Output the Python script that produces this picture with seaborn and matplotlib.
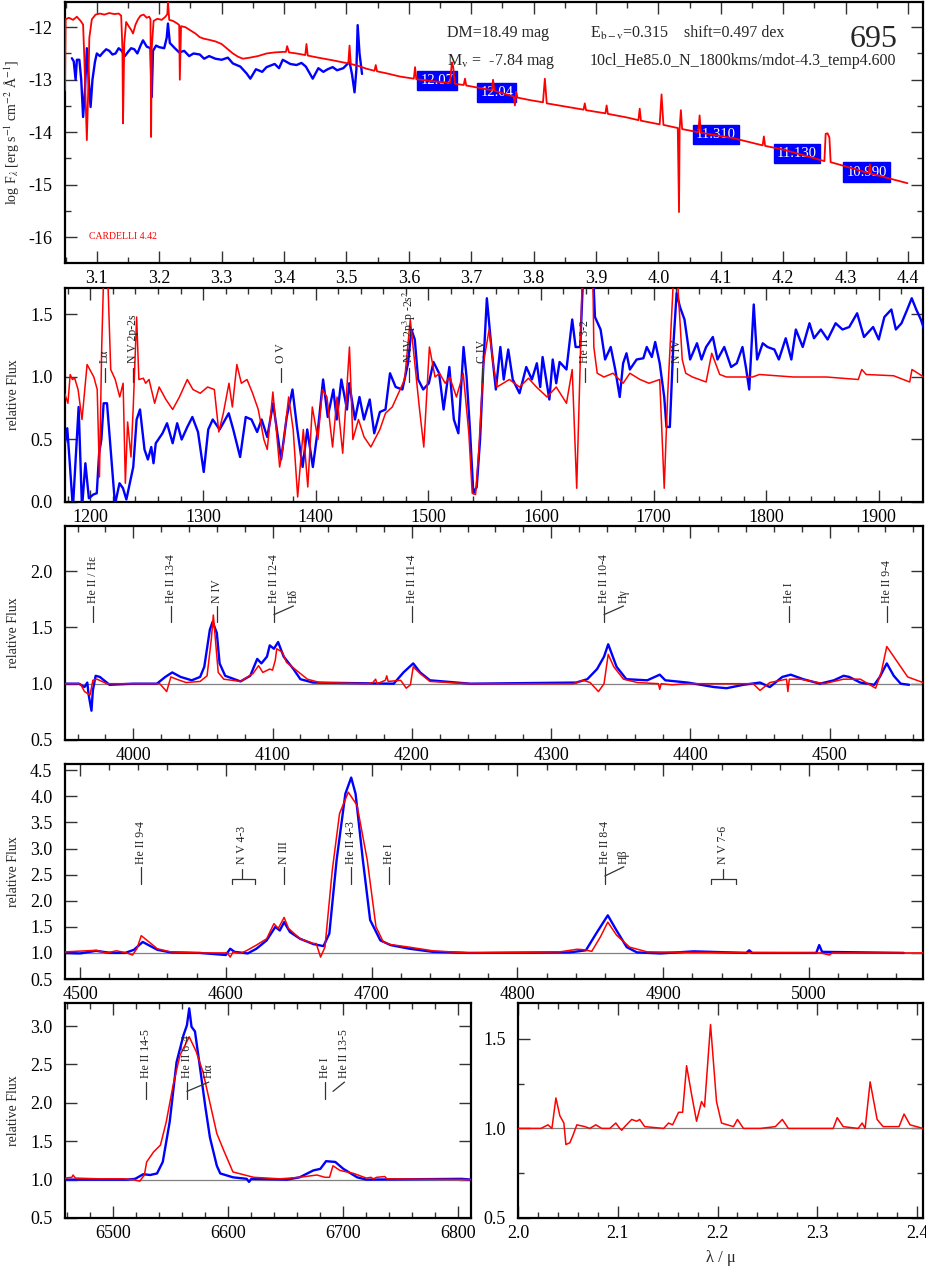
import matplotlib
matplotlib.use("Agg")
import matplotlib.pyplot as plt
import seaborn as sns
from matplotlib.ticker import MultipleLocator

# ---------------- Panel 1: SED (log lambda / log F) ----------------
sed_logw = [3.049, 3.050, 3.055, 3.062, 3.068, 3.074, 3.078, 3.080, 3.082, 3.084, 3.086, 3.088, 3.092, 3.098,
            3.105, 3.112, 3.120, 3.128, 3.135, 3.139, 3.141, 3.142, 3.144, 3.147, 3.151, 3.155, 3.158, 3.162,
            3.166, 3.170, 3.175, 3.180, 3.184, 3.186, 3.187, 3.188, 3.191, 3.197, 3.204, 3.210, 3.213, 3.214,
            3.216, 3.222, 3.229, 3.232, 3.233, 3.235, 3.242, 3.250, 3.258, 3.265, 3.272, 3.280, 3.290, 3.300,
            3.310, 3.318, 3.326, 3.334, 3.345, 3.358, 3.372, 3.385, 3.398, 3.403, 3.405, 3.408, 3.420, 3.434,
            3.436, 3.438, 3.455, 3.478, 3.495, 3.503, 3.505, 3.507, 3.520, 3.532, 3.545, 3.547, 3.549, 3.565,
            3.586, 3.608, 3.610, 3.612, 3.640, 3.666, 3.669, 3.671, 3.674, 3.688, 3.690, 3.692, 3.720, 3.733,
            3.735, 3.737, 3.768, 3.770, 3.772, 3.774, 3.795, 3.815, 3.818, 3.821, 3.850, 3.880, 3.882, 3.884,
            3.915, 3.917, 3.919, 3.950, 3.968, 3.970, 3.972, 4.002, 4.005, 4.008, 4.031, 4.033, 4.034, 4.036,
            4.038, 4.064, 4.066, 4.068, 4.119, 4.167, 4.169, 4.171, 4.200, 4.266, 4.268, 4.271, 4.274, 4.276,
            4.300, 4.337, 4.339, 4.341, 4.399]
sed_logf = [-13.20, -11.85, -11.82, -11.86, -11.80, -11.88, -11.95, -12.60, -13.40, -14.15, -13.30, -12.20, -11.85, -11.76,
            -11.74, -11.76, -11.73, -11.75, -11.74, -11.78, -12.40, -13.83, -12.30, -11.90, -11.98, -12.05, -12.12, -11.95,
            -11.85, -11.78, -11.76, -11.82, -11.80, -11.85, -14.09, -12.40, -11.88, -11.84, -11.86, -11.80, -11.75, -11.50,
            -11.86, -11.88, -11.93, -11.96, -13.00, -11.98, -12.00, -12.06, -12.12, -12.19, -12.22, -12.24, -12.27, -12.32,
            -12.42, -12.50, -12.56, -12.60, -12.58, -12.55, -12.50, -12.48, -12.47, -12.47, -12.36, -12.48, -12.50, -12.53,
            -12.32, -12.54, -12.58, -12.63, -12.67, -12.69, -12.35, -12.70, -12.74, -12.79, -12.83, -12.72, -12.84, -12.88,
            -12.94, -12.98, -12.76, -12.99, -13.03, -13.06, -12.67, -12.75, -13.08, -13.10, -12.98, -13.11, -13.17, -13.20,
            -13.00, -13.21, -13.32, -13.49, -13.23, -13.34, -13.39, -13.43, -12.98, -13.45, -13.51, -13.57, -13.45, -13.58,
            -13.64, -13.49, -13.65, -13.72, -13.77, -13.55, -13.78, -13.85, -13.28, -13.86, -13.92, -15.52, -13.93, -13.58,
            -13.94, -14.00, -13.68, -14.01, -14.11, -14.25, -14.08, -14.26, -14.33, -14.55, -14.03, -14.02, -14.10, -14.57,
            -14.65, -14.78, -14.61, -14.79, -14.97]

obs_logw = [3.060, 3.063, 3.066, 3.068, 3.072, 3.075, 3.078, 3.081, 3.084, 3.087, 3.090, 3.093, 3.097, 3.100,
            3.105, 3.110, 3.115, 3.120, 3.125, 3.130, 3.135, 3.140, 3.145, 3.150, 3.155, 3.160, 3.165, 3.170,
            3.174, 3.180, 3.186, 3.188, 3.190, 3.195, 3.200, 3.208, 3.212, 3.214, 3.217, 3.225, 3.232, 3.240,
            3.248, 3.255, 3.265, 3.272, 3.280, 3.290, 3.300, 3.310, 3.318, 3.330, 3.340, 3.346, 3.355, 3.365,
            3.372, 3.385, 3.392, 3.398, 3.410, 3.420, 3.428, 3.435, 3.446, 3.455, 3.463, 3.470, 3.478, 3.485,
            3.495, 3.505, 3.509, 3.513, 3.516, 3.518, 3.521, 3.525]
obs_logf = [-12.59, -12.65, -13.00, -12.62, -12.62, -13.00, -13.71, -13.20, -12.40, -13.00, -13.52, -13.00, -12.66, -12.50,
            -12.55, -12.48, -12.42, -12.45, -12.52, -12.50, -12.40, -12.45, -12.55, -12.47, -12.40, -12.42, -12.50, -12.35,
            -12.25, -12.37, -12.40, -13.33, -12.45, -12.35, -12.38, -12.40, -12.20, -11.93, -12.30, -12.40, -12.48, -12.45,
            -12.55, -12.50, -12.52, -12.60, -12.55, -12.60, -12.62, -12.58, -12.69, -12.75, -12.88, -12.98, -12.80, -12.85,
            -12.76, -12.70, -12.78, -12.62, -12.70, -12.72, -12.68, -12.75, -12.98, -12.78, -12.85, -12.80, -12.76, -12.82,
            -12.78, -12.66, -12.90, -13.24, -12.80, -11.96, -12.50, -12.89]

phot_logw = [3.645, 3.741, 4.092, 4.222, 4.334]
phot_logf = [-13.01, -13.24, -14.04, -14.40, -14.76]
phot_mag = ["12.07", "12.04", "11.310", "11.130", "10.990"]

# ---------------- Panel 2: UV ----------------
uv_mod_w = [1177, 1180, 1182, 1184, 1186, 1189, 1192.5, 1197, 1203, 1206, 1208, 1210, 1212, 1215, 1218, 1222, 1226,
            1229, 1231, 1233, 1236, 1238, 1241, 1243, 1247, 1249, 1252, 1257, 1261, 1267, 1273, 1279, 1286, 1291,
            1297.5, 1304, 1310, 1314, 1318, 1323, 1326, 1330, 1334, 1339, 1344, 1349, 1354, 1357, 1362, 1368, 1371,
            1376, 1380, 1384, 1389, 1393, 1397, 1402, 1406, 1410, 1415, 1419, 1424, 1430, 1433, 1438, 1443, 1449,
            1457, 1462, 1468, 1475, 1479, 1484, 1488, 1492, 1496, 1501, 1506, 1510, 1515, 1519, 1525, 1531, 1536,
            1539, 1542, 1545, 1549, 1554, 1558, 1561, 1572, 1581, 1589, 1596, 1605.5, 1613.6, 1622.7, 1627.8,
            1631.8, 1634.9, 1636.9, 1646, 1647, 1650, 1656, 1664, 1673, 1679, 1688, 1696, 1705.5, 1709.5, 1712.5,
            1717.5, 1720.5, 1725.5, 1728.6, 1734.6, 1746.7, 1751.7, 1758.8, 1764.8, 1788, 1794, 1824.3, 1853.6,
            1881.8, 1884.9, 1888.9, 1913.2, 1927.5, 1929.5, 1940]
uv_mod_f = [0.87, 0.79, 1.02, 0.98, 0.99, 0.90, 0.66, 1.10, 1.00, 0.90, 0.20, 1.24, 1.90, 1.90, 1.06, 0.98, 0.84,
            0.95, 0.15, 0.64, 0.36, 0.76, 1.48, 0.98, 0.99, 0.95, 0.98, 0.79, 0.92, 0.82, 0.74, 0.84, 0.98, 0.90,
            0.87, 0.92, 0.90, 0.56, 0.71, 0.95, 0.76, 1.10, 0.95, 0.98, 0.87, 0.74, 0.50, 0.42, 0.88, 0.28, 0.44,
            0.84, 0.58, 0.04, 0.58, 0.12, 0.76, 0.50, 0.90, 0.84, 0.44, 0.84, 0.39, 1.24, 0.50, 0.66, 0.52, 0.44,
            0.58, 0.71, 0.76, 0.90, 0.98, 1.46, 1.11, 0.76, 0.44, 1.24, 1.00, 1.03, 0.95, 1.00, 0.84, 1.03, 0.55,
            0.07, 0.06, 0.44, 1.11, 1.38, 1.08, 0.92, 0.98, 0.92, 0.99, 0.92, 0.84, 0.92, 0.79, 1.06,
            0.11, 1.11, 1.90, 1.90, 1.24, 1.03, 1.00, 1.03, 0.95, 1.03, 0.98, 0.95, 0.98, 0.11, 0.84,
            1.75, 1.90, 1.14, 1.03, 1.00, 0.96, 1.19, 1.02, 1.00, 1.00, 1.02, 1.00, 1.00,
            0.98, 1.06, 1.02, 1.01, 0.96, 1.06, 1.00]

uv_obs_w = [1177.4, 1179.4, 1181.4, 1184.4, 1189.5, 1192.5, 1195.5, 1198.6, 1202.6, 1205.6, 1207.7, 1209.7, 1211.7,
            1214.7, 1217.8, 1221.8, 1225.8, 1228.9, 1231.9, 1238, 1241, 1244, 1248, 1251, 1254, 1256, 1258, 1264,
            1268, 1273, 1277, 1281, 1286, 1290.5, 1295.5, 1300.6, 1304.6, 1308.6, 1314.7, 1322.8, 1326.8, 1332.9,
            1337.9, 1343, 1348, 1352, 1357, 1362.2, 1369.3, 1374.3, 1379.4, 1383.4, 1388.4, 1392.5, 1397.5, 1402.6,
            1406.6, 1410.7, 1415.7, 1418.7, 1422.8, 1427.8, 1429.8, 1434.9, 1438.9, 1442.9, 1448, 1452, 1457, 1462,
            1466, 1471, 1477, 1482, 1485, 1488, 1491, 1495.5, 1500.5, 1504.6, 1509.6, 1513.6, 1518.7, 1522.7,
            1526.7, 1531.3, 1534, 1537, 1540, 1543, 1546, 1549, 1552, 1556, 1560, 1564, 1567, 1571, 1575, 1581,
            1587, 1592, 1596.4, 1599.4, 1601.5, 1607.5, 1610.5, 1613.6, 1616.6, 1622.7, 1627.8, 1630.8, 1634.9,
            1637.9, 1646, 1648, 1653, 1657, 1662, 1666, 1670, 1673, 1676, 1679, 1685, 1691, 1694, 1698.5, 1701.5,
            1705.5, 1709.5, 1711.5, 1714.5, 1717.5, 1720.5, 1723.5, 1727.5, 1732.5, 1738.6, 1742.6, 1746.7, 1752.7,
            1756.8, 1762.8, 1768.9, 1773.9, 1779, 1782, 1785, 1789, 1792, 1797, 1801.2, 1807.3, 1811.3, 1817.4,
            1822.4, 1826.4, 1832.5, 1838.5, 1842.5, 1848.6, 1854.6, 1861.7, 1867.8, 1873.8, 1880.8, 1886.9, 1895,
            1900, 1905, 1911.2, 1915.2, 1920.2, 1925.3, 1929.3, 1933.3, 1937.4, 1940.4]
uv_obs_f = [0.47, 0.59, 0.34, -0.05, 0.76, -0.05, 0.31, 0.03, 0.06, 0.07, 0.39, 0.50, 0.79,
            0.79, 0.44, -0.02, 0.15, 0.11, 0.02, 0.28, 0.66, 0.74, 0.42, 0.34, 0.44, 0.31, 0.47, 0.55,
            0.63, 0.47, 0.63, 0.50, 0.60, 0.68, 0.56, 0.24, 0.58, 0.66, 0.58, 0.71, 0.58, 0.36,
            0.68, 0.66, 0.56, 0.66, 0.52, 0.79, 0.34, 0.68, 0.90, 0.60, 0.28, 0.58, 0.28, 0.63,
            0.98, 0.68, 0.90, 0.66, 0.98, 0.74, 0.95, 0.66, 0.84, 0.66, 0.82, 0.55, 0.72, 0.74,
            1.03, 0.92, 0.90, 1.11, 1.38, 1.30, 0.98, 0.90, 0.95, 1.12, 1.03, 0.74, 1.08, 0.66,
            0.55, 1.24, 1.00, 0.58, 0.07, 0.12, 0.50, 1.11, 1.63, 1.24, 0.90, 1.24, 0.98, 1.22, 0.98, 0.87,
            1.08, 0.98, 1.11, 0.92, 1.16, 0.82, 1.14, 0.95, 1.12, 1.06, 1.46, 1.24, 1.24,
            1.90, 1.90, 1.48, 1.38, 1.14, 1.24, 1.06, 0.84, 1.11, 1.19, 1.06, 1.14, 1.15, 1.24, 1.16, 1.28,
            1.11, 0.84, 0.60, 0.60, 1.24, 1.67, 1.56, 1.46, 1.14, 1.27, 1.14, 1.24, 1.32,
            1.14, 1.24, 1.08, 1.11, 1.24, 1.08, 0.90, 1.58, 1.14, 1.27, 1.24, 1.22, 1.14, 1.31,
            1.14, 1.38, 1.24, 1.43, 1.31, 1.38, 1.30, 1.43, 1.38, 1.40, 1.51, 1.32, 1.40,
            1.30, 1.48, 1.54, 1.38, 1.43, 1.54, 1.63, 1.54, 1.46, 1.38]

# ---------------- Panel 3: 3950-4570 ----------------
b1_mod_w = [3951, 3962, 3965, 3969, 3971, 3974, 3981, 4019, 4024, 4027, 4031, 4038, 4048, 4053, 4056, 4057.5, 4059,
            4061, 4065, 4077, 4086, 4090, 4093, 4098, 4100, 4102, 4103, 4107, 4110, 4116, 4125, 4134, 4168, 4172,
            4174, 4175, 4181, 4182, 4183, 4192, 4196, 4199, 4201, 4206, 4213, 4227, 4242, 4316, 4323, 4328, 4334,
            4338, 4341, 4345, 4352, 4362, 4377, 4378, 4379, 4387, 4398, 4445, 4450, 4457, 4465, 4469, 4470, 4471,
            4479, 4496, 4510, 4522, 4533, 4537, 4541, 4546, 4556, 4567]
b1_mod_f = [1.00, 1.00, 0.93, 0.90, 1.03, 1.04, 1.00, 1.00, 0.93, 1.06, 1.04, 1.01, 1.02, 1.07, 1.39, 1.61, 1.39,
            1.10, 1.04, 1.02, 1.09, 1.16, 1.10, 1.13, 1.12, 1.21, 1.31, 1.28, 1.19, 1.13, 1.04, 1.01, 1.00, 1.01,
            1.04, 1.00, 1.03, 1.07, 1.02, 1.03, 0.96, 0.99, 1.15, 1.09, 1.02, 1.01, 1.00, 1.00, 1.03, 1.01, 0.93,
            1.00, 1.26, 1.15, 1.04, 1.01, 1.00, 0.95, 1.00, 0.99, 1.00, 1.00, 0.94, 1.01, 1.03, 1.04, 0.93, 1.04,
            1.04, 1.00, 1.04, 1.04, 0.96, 1.10, 1.33, 1.24, 1.06, 1.01]
b1_obs_w = [3951, 3961, 3965, 3967, 3968, 3970, 3971, 3973, 3976, 3983, 4000, 4017, 4023, 4028, 4034, 4042, 4048,
            4051, 4055, 4057, 4060, 4062, 4066, 4077, 4084, 4089, 4092, 4096, 4098, 4101, 4104, 4108, 4115, 4120,
            4129, 4187, 4194, 4201, 4206, 4213, 4242, 4318, 4326, 4333, 4338, 4341, 4347, 4354, 4369, 4378, 4382,
            4398, 4417, 4426, 4438, 4450, 4457, 4466, 4472, 4481, 4493, 4503, 4510, 4514, 4522, 4532, 4536, 4541,
            4546, 4551, 4557]
b1_obs_f = [1.00, 1.00, 0.97, 1.01, 0.90, 0.76, 0.94, 1.07, 1.06, 0.99, 1.00, 1.00, 1.06, 1.10, 1.06, 1.03, 1.06,
            1.15, 1.48, 1.55, 1.45, 1.18, 1.07, 1.02, 1.07, 1.22, 1.18, 1.24, 1.34, 1.31, 1.37, 1.24, 1.13, 1.04,
            1.01, 1.00, 1.10, 1.18, 1.10, 1.03, 1.00, 1.01, 1.04, 1.13, 1.24, 1.35, 1.15, 1.04, 1.03, 1.08, 1.03,
            1.01, 0.97, 0.96, 0.99, 1.01, 0.97, 1.06, 1.08, 1.04, 1.00, 1.03, 1.07, 1.06, 1.01, 0.99, 1.06, 1.18,
            1.07, 1.00, 0.99]

# ---------------- Panel 4: 4490-5078 ----------------
b2_mod_w = [4490, 4511, 4518, 4525, 4532, 4536, 4539, 4542, 4546, 4553, 4562, 4582, 4601, 4603, 4605, 4610, 4614,
            4621, 4628, 4633, 4636, 4640, 4643, 4651, 4660, 4662, 4665, 4668, 4673, 4678, 4684, 4690, 4697, 4703,
            4708, 4713, 4726, 4742, 4767, 4829, 4841, 4846, 4851, 4857, 4862, 4868, 4877, 4889, 4921, 5008, 5014,
            5016, 5078]
b2_mod_f = [1.02, 1.05, 1.00, 1.04, 1.00, 0.96, 1.08, 1.33, 1.24, 1.08, 1.02, 1.00, 1.00, 0.92, 1.02, 0.99, 1.04,
            1.15, 1.27, 1.56, 1.47, 1.68, 1.47, 1.27, 1.18, 1.18, 0.92, 1.11, 2.58, 3.67, 4.08, 3.83, 2.78, 1.50,
            1.21, 1.16, 1.11, 1.04, 1.00, 1.02, 1.07, 1.06, 1.03, 1.31, 1.59, 1.34, 1.11, 1.02, 1.01, 1.00, 0.96,
            1.00, 1.00]
b2_obs_w = [4490, 4500, 4511, 4521, 4531, 4537, 4543, 4553, 4562, 4582, 4600, 4603, 4606, 4615, 4621, 4628, 4634,
            4637, 4640, 4644, 4651, 4660, 4667, 4671, 4676, 4682, 4686, 4689, 4694, 4699, 4706, 4713, 4726, 4742,
            4767, 4836, 4847, 4854, 4862, 4868, 4875, 4882, 4898, 4921, 4957, 4959, 4961, 5005, 5007, 5009, 5065]
b2_obs_f = [1.00, 0.99, 1.04, 1.00, 1.00, 1.06, 1.21, 1.06, 1.01, 1.00, 0.96, 1.08, 1.02, 0.99, 1.08, 1.24, 1.50,
            1.43, 1.59, 1.40, 1.27, 1.17, 1.13, 1.37, 2.78, 4.05, 4.36, 4.05, 2.78, 1.63, 1.24, 1.15, 1.08, 1.02,
            1.00, 1.01, 1.05, 1.37, 1.72, 1.43, 1.11, 1.01, 0.99, 1.03, 1.00, 1.05, 1.00, 1.00, 1.15, 1.02, 1.00]

# ---------------- Panel 5: H alpha ----------------
ha_mod_w = [6458, 6464, 6465, 6467, 6488, 6509, 6517, 6523, 6527, 6529, 6535, 6541, 6546, 6552, 6558, 6566, 6572,
            6578, 6584, 6590, 6596, 6604, 6622, 6645, 6662, 6677, 6684, 6688, 6691, 6697, 6709, 6720, 6724, 6726,
            6729, 6736, 6738, 6811]
ha_mod_f = [1.02, 1.03, 1.06, 1.02, 1.01, 1.01, 1.00, 0.98, 1.06, 1.23, 1.36, 1.45, 1.75, 2.23, 2.62, 2.86, 2.67,
            2.40, 2.00, 1.60, 1.38, 1.10, 1.03, 1.01, 1.03, 1.06, 1.03, 1.03, 1.18, 1.12, 1.08, 1.02, 1.03, 1.01,
            1.03, 1.04, 1.01, 1.00]
ha_obs_w = [6458, 6512, 6519, 6526, 6532, 6538, 6543, 6549, 6555, 6561, 6564, 6566, 6568, 6571, 6575, 6580, 6584,
            6590, 6593, 6604, 6616, 6618, 6620, 6651, 6662, 6674, 6680, 6685, 6693, 6700, 6712, 6720, 6803, 6811]
ha_obs_f = [1.00, 1.00, 1.01, 1.07, 1.06, 1.08, 1.23, 1.75, 2.53, 2.88, 3.01, 3.23, 2.99, 2.93, 2.50, 1.95, 1.55,
            1.18, 1.08, 1.03, 1.01, 0.97, 1.01, 1.00, 1.03, 1.12, 1.14, 1.24, 1.23, 1.14, 1.03, 1.00, 1.01, 1.00]

# ---------------- Panel 6: K band (micron) ----------------
k_mod_w = [2.000, 2.023, 2.030, 2.034, 2.038, 2.042, 2.046, 2.048, 2.052, 2.055, 2.059, 2.067, 2.072, 2.078, 2.084,
           2.092, 2.098, 2.102, 2.104, 2.107, 2.114, 2.119, 2.122, 2.127, 2.146, 2.151, 2.155, 2.161, 2.165, 2.169,
           2.174, 2.179, 2.184, 2.187, 2.193, 2.199, 2.204, 2.216, 2.220, 2.226, 2.243, 2.258, 2.265, 2.271, 2.316,
           2.320, 2.326, 2.341, 2.345, 2.348, 2.353, 2.360, 2.366, 2.382, 2.387, 2.393, 2.406]
k_mod_f = [1.00, 1.00, 1.02, 1.00, 1.17, 1.07, 1.03, 0.91, 0.92, 0.96, 1.02, 1.01, 1.00, 1.02, 1.00,
           1.00, 1.03, 1.00, 0.99, 1.01, 1.05, 1.04, 1.05, 1.01, 1.00, 1.03, 1.02, 1.09, 1.09, 1.35,
           1.19, 1.04, 1.15, 1.12, 1.58, 1.15, 1.03, 1.01, 1.05, 1.00, 1.00, 1.01, 1.05, 1.00, 1.00,
           1.06, 1.01, 1.00, 1.03, 1.00, 1.26, 1.05, 1.01, 1.01, 1.08, 1.02, 1.00]

# ---------------- Line identifications: (tick wavelength, text position, label) ----------------
uv_ids = [(1213, 1213, "Lα"), (1238, 1238, "N V 2p-2s"), (1369, 1369, "O V"),
          (1483, 1483, r"N IV 2p$^3$p -2s$^2$"), (1548, 1548, "C IV"), (1639, 1639, "He II 3-2"),
          (1721, 1721, "N IV")]
b1_ids = [(3971, 3971, "He II / Hε"), (4027, 4027, "He II 13-4"), (4060, 4060, "N IV"),
          (4101, 4101, "He II 12-4"), (4101, 4115, "Hδ"), (4200, 4200, "He II 11-4"),
          (4338, 4338, "He II 10-4"), (4338, 4352, "Hγ"), (4471, 4471, "He I"), (4541, 4541, "He II 9-4")]
b2_ids = [(4542, 4542, "He II 9-4"), (4640, 4640, "N III"), (4686, 4686, "He II 4-3"), (4712, 4712, "He I"),
          (4860, 4860, "He II 8-4"), (4860, 4873, "Hβ")]
b2_brackets = [(4604, 4620, 4611, "N V 4-3"), (4933, 4950, 4941, "N V 7-6")]
ha_ids = [(6528, 6528, "He II 14-5"), (6564, 6564, "He II 6-4"), (6564, 6583, "Hα"),
          (6684, 6684, "He I"), (6691, 6701, "He II 13-5")]

# ---------------- Figure ----------------
sns.set_theme(style="ticks")
SERIF = ["Liberation Serif", "DejaVu Serif"]
plt.rcParams["font.family"] = SERIF
plt.rcParams["font.serif"] = SERIF
plt.rcParams["font.sans-serif"] = SERIF
plt.rcParams["mathtext.fontset"] = "stix"
plt.rcParams["axes.unicode_minus"] = False
plt.rcParams["axes.formatter.use_mathtext"] = False

W, H = 926, 1268
fig = plt.figure(figsize=(W / 100, H / 100), dpi=100)
fig.patch.set_facecolor("white")


def add_ax(l, t, r, b):
    return fig.add_axes([l / W, 1 - b / H, (r - l) / W, (b - t) / H])


def style(ax, xmaj, xmin, ymaj, ymin=None):
    ax.set_facecolor("white")
    ax.xaxis.set_major_locator(MultipleLocator(xmaj))
    ax.xaxis.set_minor_locator(MultipleLocator(xmin))
    ax.yaxis.set_major_locator(MultipleLocator(ymaj))
    if ymin:
        ax.yaxis.set_minor_locator(MultipleLocator(ymin))
    ax.tick_params(which="both", direction="in", top=True, right=True, color="#333333",
                   labelsize=13, labelcolor="black", labelfontfamily="Liberation Serif")
    ax.tick_params(axis="x", which="both", pad=5)
    ax.tick_params(axis="y", which="both", pad=9)
    ax.tick_params(which="major", length=8.5, width=1.0)
    ax.tick_params(which="minor", length=4.5, width=1.0)
    for s in ax.spines.values():
        s.set_linewidth(1.6)
        s.set_color("black")
    ax.grid(False)


def draw(ax, x, y, color, lw):
    sns.lineplot(x=x, y=y, ax=ax, color=color, linewidth=lw, sort=False, estimator=None,
                 legend=False, zorder=3)


def ids(ax, entries, lo, hi, ytext, fs=8.5):
    for tx, lx, lab in entries:
        if lx == tx:
            ax.plot([tx, tx], [lo, hi], color="#333333", lw=0.9, zorder=4)
        else:
            ax.plot([tx, lx], [lo + 0.45 * (hi - lo), hi], color="#333333", lw=0.9, zorder=4)
        ax.text(lx, ytext, lab, rotation=90, ha="center", va="bottom", fontsize=fs, color="#222222", zorder=5)


GRAY = "#808080"
RED = "#ff0000"
BLUE = "#0000ff"

# Panel 1
ax1 = add_ax(65, 2, 923, 263)
draw(ax1, obs_logw, obs_logf, BLUE, 1.7)
draw(ax1, sed_logw, sed_logf, RED, 1.3)
for xw, yf, m in zip(phot_logw, phot_logf, phot_mag):
    ax1.text(xw, yf, m, color="white", ha="center", va="center", fontsize=10.5, zorder=2,
             bbox=dict(boxstyle="square,pad=0.22", fc=BLUE, ec=BLUE))
ax1.set_xlim(3.049, 4.424)
ax1.set_ylim(-16.49, -11.52)
style(ax1, 0.1, 0.05, 1, 0.5)
ax1.set_ylabel(r"log F$_\lambda$ [erg s$^{-1}$ cm$^{-2}$ Å$^{-1}$]", fontsize=10)
ax1.yaxis.set_label_coords(-0.050, 0.5)
ax1.set_xlabel("")
ax1.text(0.445, 0.880, "DM=18.49 mag", transform=ax1.transAxes, fontsize=11.5, va="center")
ax1.text(0.612, 0.880, r"E$_{\rm b-v}$=0.315", transform=ax1.transAxes, fontsize=11.5, va="center")
ax1.text(0.721, 0.880, "shift=0.497 dex", transform=ax1.transAxes, fontsize=11.5, va="center")
ax1.text(0.445, 0.773, r"M$_{\rm v}$ =  -7.84 mag", transform=ax1.transAxes, fontsize=11.5, va="center")
ax1.text(0.612, 0.773, "10cl_He85.0_N_1800kms/mdot-4.3_temp4.600", transform=ax1.transAxes,
         fontsize=11.5, va="center")
ax1.text(0.970, 0.857, "695", transform=ax1.transAxes, fontsize=23, ha="right", va="center")
ax1.text(0.028, 0.103, "CARDELLI 4.42", transform=ax1.transAxes, fontsize=7, color=RED, va="center")

# Panel 2
ax2 = add_ax(65, 288, 923, 502)
draw(ax2, uv_obs_w, uv_obs_f, BLUE, 1.7)
draw(ax2, uv_mod_w, uv_mod_f, RED, 1.1)
ax2.set_xlim(1177.4, 1939.3)
ax2.set_ylim(0, 1.712)
style(ax2, 100, 20, 0.5)
ids(ax2, uv_ids, 0.96, 1.07, 1.11)
ax2.set_ylabel("relative Flux", fontsize=10)
ax2.yaxis.set_label_coords(-0.053, 0.5)
ax2.set_xlabel("")

# Panel 3
ax3 = add_ax(65, 526, 923, 740)
ax3.axhline(1.0, color=GRAY, lw=0.9, zorder=1)
draw(ax3, b1_obs_w, b1_obs_f, BLUE, 1.7)
draw(ax3, b1_mod_w, b1_mod_f, RED, 1.1)
ax3.set_xlim(3951, 4567)
ax3.set_ylim(0.5, 2.4)
style(ax3, 100, 20, 0.5)
ids(ax3, b1_ids, 1.55, 1.69, 1.72)
ax3.set_ylabel("relative Flux", fontsize=10)
ax3.yaxis.set_label_coords(-0.053, 0.5)
ax3.set_xlabel("")

# Panel 4
ax4 = add_ax(65, 764, 923, 979)
ax4.axhline(1.0, color=GRAY, lw=0.9, zorder=1)
draw(ax4, b2_obs_w, b2_obs_f, BLUE, 1.7)
draw(ax4, b2_mod_w, b2_mod_f, RED, 1.1)
ax4.set_xlim(4489.7, 5078.2)
ax4.set_ylim(0.5, 4.62)
style(ax4, 100, 20, 0.5)
ids(ax4, b2_ids, 2.33, 2.65, 2.71)
for lo_w, hi_w, c_w, lab in b2_brackets:
    ax4.plot([lo_w, lo_w, hi_w, hi_w], [2.33, 2.42, 2.42, 2.33], color="#333333", lw=0.9, zorder=4)
    ax4.plot([c_w, c_w], [2.42, 2.60], color="#333333", lw=0.9, zorder=4)
    ax4.text(c_w, 2.71, lab, rotation=90, ha="center", va="bottom", fontsize=8.5, color="#222222")
ax4.set_ylabel("relative Flux", fontsize=10)
ax4.yaxis.set_label_coords(-0.053, 0.5)
ax4.set_xlabel("")

# Panel 5
ax5 = add_ax(65, 1003, 471, 1218)
ax5.axhline(1.0, color=GRAY, lw=0.9, zorder=1)
draw(ax5, ha_obs_w, ha_obs_f, BLUE, 1.7)
draw(ax5, ha_mod_w, ha_mod_f, RED, 1.1)
ax5.set_xlim(6458, 6811)
ax5.set_ylim(0.5, 3.3)
style(ax5, 100, 20, 0.5)
ids(ax5, ha_ids, 2.05, 2.27, 2.32)
ax5.set_ylabel("relative Flux", fontsize=10)
ax5.yaxis.set_label_coords(-0.112, 0.5)
ax5.set_xlabel("")

# Panel 6
ax6 = add_ax(518, 1003, 923, 1218)
ax6.axhline(1.0, color=GRAY, lw=0.9, zorder=1)
draw(ax6, k_mod_w, k_mod_f, RED, 1.1)
ax6.set_xlim(2.0, 2.406)
ax6.set_ylim(0.5, 1.7)
style(ax6, 0.1, 0.02, 0.5, 0.25)
ax6.set_ylabel("")
ax6.set_xlabel("λ / μ", fontsize=12, labelpad=6)

for ax in (ax1, ax2, ax3, ax4, ax5, ax6):
    for lab in ax.get_xticklabels() + ax.get_yticklabels():
        lab.set_fontfamily("Liberation Serif")

fig.savefig("out.png", dpi=100, facecolor="white")
